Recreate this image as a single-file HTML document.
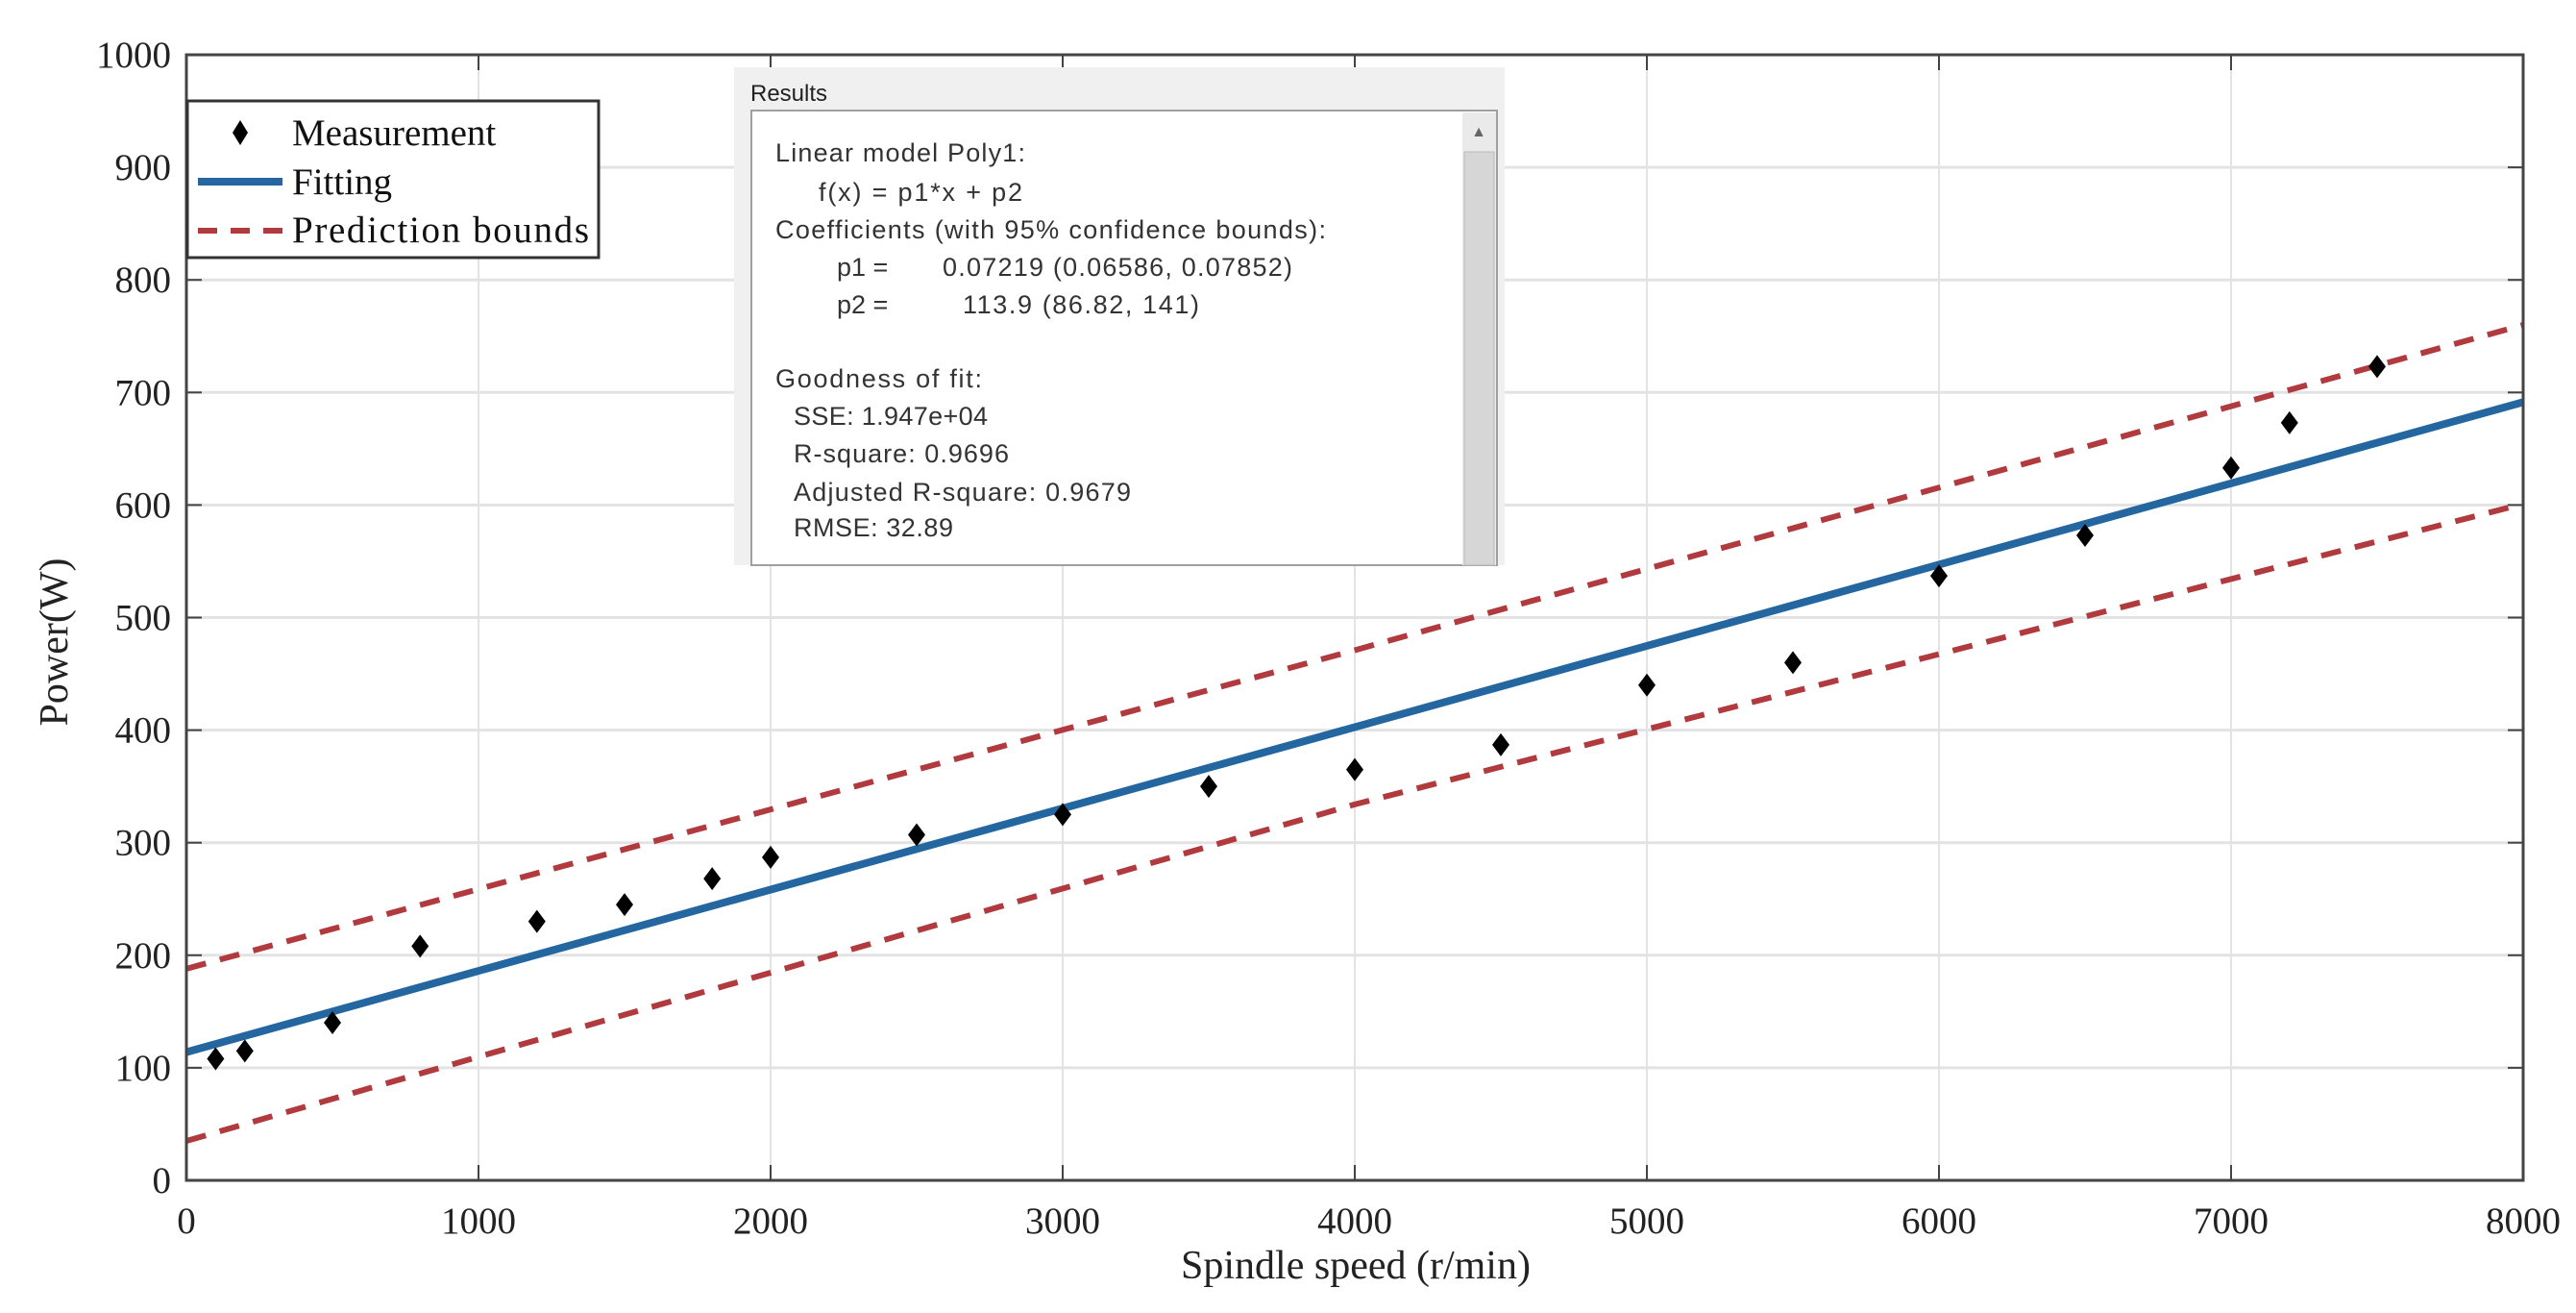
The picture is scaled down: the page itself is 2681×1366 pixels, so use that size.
<!DOCTYPE html>
<html><head><meta charset="utf-8"><style>
html,body{margin:0;padding:0;background:#fff;}
svg{display:block;}
</style></head><body>
<svg id="chart" width="2681" height="1366" viewBox="0 0 2681 1366" xmlns="http://www.w3.org/2000/svg">
<g id="grid"></g>
<g id="series"></g>
<g id="axes"></g>
<text x="1411" y="1330" font-family="Liberation Serif, serif" font-size="42" text-anchor="middle" fill="#222">Spindle speed (r/min)</text>
<text transform="translate(70,668) rotate(-90)" font-family="Liberation Serif, serif" font-size="42" text-anchor="middle" fill="#222">Power(W)</text>

<g>
<rect x="195" y="105" width="428" height="163" fill="#fff" stroke="#333" stroke-width="3"/>
<path d="M250,125 L258,138 L250,151 L242,138 Z" fill="#000"/>
<text x="304" y="151" font-family="Liberation Serif, serif" font-size="39" fill="#111">Measurement</text>
<line x1="206" y1="189" x2="294" y2="189" stroke="#2467a0" stroke-width="8"/>
<text x="304" y="202" font-family="Liberation Serif, serif" font-size="39" fill="#111">Fitting</text>
<line x1="206" y1="240" x2="294" y2="240" stroke="#b03a3e" stroke-width="6" stroke-dasharray="20,14"/>
<text x="304" y="252" font-family="Liberation Serif, serif" font-size="39" fill="#111" textLength="309">Prediction bounds</text>
</g>

<g font-family="Liberation Sans, sans-serif" fill="#333">
<rect x="764" y="70" width="802" height="518" fill="#f0f0f0"/>
<text x="781" y="105" font-size="24" fill="#222">Results</text>
<rect x="782" y="115" width="776" height="473" fill="#fff" stroke="#a0a0a0" stroke-width="2"/>
<rect x="1522" y="117" width="35" height="471" fill="#eaeaea"/>
<rect x="1524" y="158" width="31" height="430" fill="#d6d6d6" stroke="#bbb" stroke-width="1"/>
<text x="1539" y="142" font-size="16" text-anchor="middle" fill="#666">▲</text>
<g font-size="27">
<text x="807" y="168" textLength="260">Linear model Poly1:</text>
<text x="852" y="209" textLength="212">f(x) = p1*x + p2</text>
<text x="807" y="248" textLength="573">Coefficients (with 95% confidence bounds):</text>
<text x="871" y="287">p1 =</text>
<text x="981" y="287" textLength="364">0.07219  (0.06586, 0.07852)</text>
<text x="871" y="326">p2 =</text>
<text x="1002" y="326" textLength="246">113.9  (86.82, 141)</text>
<text x="807" y="403" textLength="215">Goodness of fit:</text>
<text x="826" y="442" textLength="202">SSE: 1.947e+04</text>
<text x="826" y="481" textLength="224">R-square: 0.9696</text>
<text x="826" y="521" textLength="351">Adjusted R-square: 0.9679</text>
<text x="826" y="558" textLength="166">RMSE: 32.89</text>
</g>
</g>
</svg>
<script>
const speeds = [100,200,500,800,1200,1500,1800,2000,2500,3000,3500,4000,4500,5000,5500,6000,6500,7000,7200,7500];
const powers = [108,115,140,208,230,245,268,287,307,325,350,365,387,440,460,537,573,633,673,723];
const fitIntercept = 113.9;
const fitSlope = 0.07219;
const boundX = [0,4000,8000];
const upperBound = [188,471,760];
const lowerBound = [35,334,601];
const xTicks = [0,1000,2000,3000,4000,5000,6000,7000,8000];
const yTicks = [0,100,200,300,400,500,600,700,800,900,1000];

const L=194,R=2626,T=57,B=1228;
const sx=v=>L+(v-0)/(8000-0)*(R-L);
const sy=v=>B-(v-0)/(1000-0)*(B-T);
const NS='http://www.w3.org/2000/svg';
function mk(tag,parent,attrs){const e=document.createElementNS(NS,tag);for(const k in attrs)e.setAttribute(k,attrs[k]);parent.appendChild(e);return e;}
const grid=document.getElementById('grid'),series=document.getElementById('series'),axes=document.getElementById('axes');

xTicks.forEach(t=>{
  const g=mk('line',grid,{x1:sx(t),x2:sx(t),y1:T,y2:B,stroke:'#e3e3e3','stroke-width':2});
  
  
  const tk=mk('line',axes,{x1:sx(t),x2:sx(t),y1:B,y2:B-16,stroke:'#444','stroke-width':2});
  
  
  const tk2=mk('line',axes,{x1:sx(t),x2:sx(t),y1:T,y2:T+16,stroke:'#444','stroke-width':2});
  
  
  const lb=mk('text',axes,{x:sx(t),y:B+55,'text-anchor':'middle','font-family':'Liberation Serif, serif','font-size':39,fill:'#222'});
  lb.textContent=t;
  
  
});
yTicks.forEach(t=>{
  const g=mk('line',grid,{x1:L,x2:R,y1:sy(t),y2:sy(t),stroke:'#e3e3e3','stroke-width':3});
  
  
  const tk=mk('line',axes,{x1:L,x2:L+16,y1:sy(t),y2:sy(t),stroke:'#444','stroke-width':2});
  
  
  const tk2=mk('line',axes,{x1:R,x2:R-16,y1:sy(t),y2:sy(t),stroke:'#444','stroke-width':2});
  
  
  const lb=mk('text',axes,{x:L-16,y:sy(t)+13,'text-anchor':'end','font-family':'Liberation Serif, serif','font-size':39,fill:'#222'});
  lb.textContent=t;
  
  
});
const box=mk('rect',axes,{x:L,y:T,width:R-L,height:B-T,fill:'none',stroke:'#444','stroke-width':3});



function pathOf(xs,ys){return xs.map((x,i)=>(i?'L':'M')+sx(x)+','+sy(ys[i])).join(' ');}
const up=mk('path',series,{d:pathOf(boundX,upperBound),fill:'none',stroke:'#b03a3e','stroke-width':6,'stroke-dasharray':'21,15'});


const lo=mk('path',series,{d:pathOf(boundX,lowerBound),fill:'none',stroke:'#b03a3e','stroke-width':6,'stroke-dasharray':'21,15'});


const fit=mk('line',series,{x1:sx(0),y1:sy(fitIntercept),x2:sx(8000),y2:sy(fitIntercept+fitSlope*8000),stroke:'#2467a0','stroke-width':8});


speeds.forEach((s,i)=>{
  const cx=sx(s),cy=sy(powers[i]);
  const d=mk('path',series,{d:`M${cx},${cy-12} L${cx+9},${cy} L${cx},${cy+12} L${cx-9},${cy} Z`,fill:'#000'});
  
  
});
</script>
</body></html>
